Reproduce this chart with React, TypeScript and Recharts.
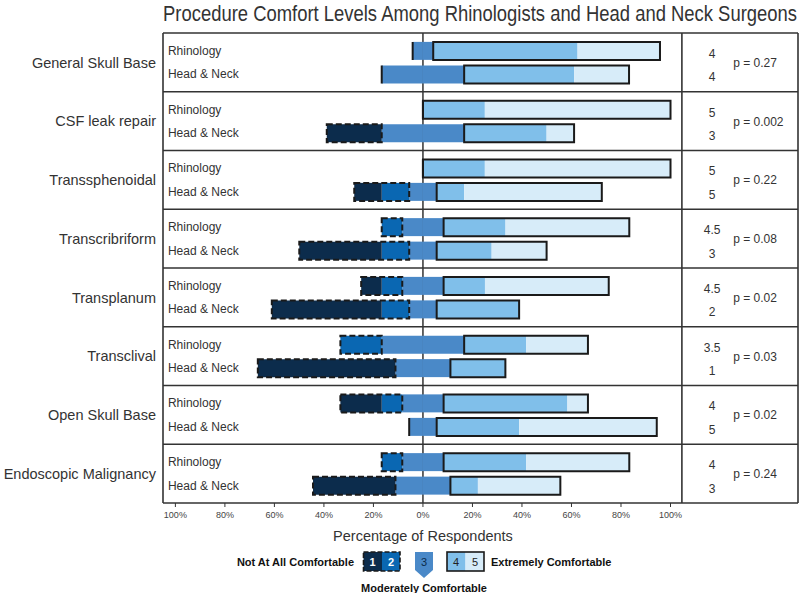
import React from "react";
import { ComposedChart, Bar, Scatter, XAxis, YAxis, ReferenceLine } from "recharts";

// ---------- data ----------
const procedures = [
  "General Skull Base",
  "CSF leak repair",
  "Transsphenoidal",
  "Transcribriform",
  "Transplanum",
  "Transclival",
  "Open Skull Base",
  "Endoscopic Malignancy",
];
const groups = ["Rhinology", "Head & Neck"];

// percentage of respondents per comfort level (1 = not at all ... 5 = extremely)
const rhinoL1 = [0, 0, 0, 0, 8.3, 0, 16.7, 0];
const rhinoL2 = [0, 0, 0, 8.3, 8.3, 16.7, 8.3, 8.3];
const rhinoL3 = [8.3, 0, 0, 16.7, 16.7, 33.3, 16.7, 16.7];
const rhinoL4 = [58.3, 25, 25, 25, 16.7, 25, 50, 33.3];
const rhinoL5 = [33.3, 75, 75, 50, 50, 25, 8.3, 41.7];

const hnL1 = [0, 22.2, 11.1, 33.3, 44.4, 55.6, 0, 33.3];
const hnL2 = [0, 0, 11.1, 11.1, 11.1, 0, 0, 0];
const hnL3 = [33.3, 33.3, 11.1, 11.1, 11.1, 22.2, 11.1, 22.2];
const hnL4 = [44.4, 33.3, 11.1, 22.2, 33.3, 22.2, 33.3, 11.1];
const hnL5 = [22.2, 11.1, 55.6, 22.2, 0, 0, 55.6, 33.3];

const rhinoMedian = [4, 5, 5, 4.5, 4.5, 3.5, 4, 4];
const hnMedian = [4, 3, 5, 3, 2, 1, 5, 3];
const pValues = ["0.27", "0.002", "0.22", "0.08", "0.02", "0.03", "0.02", "0.24"];

const xTicks = [-100, -80, -60, -40, -20, 0, 20, 40, 60, 80, 100];
const procTicks = [0.5, 1.5, 2.5, 3.5, 4.5, 5.5, 6.5, 7.5];
const separators = [1, 2, 3, 4, 5, 6, 7];

// ---------- style / layout constants ----------
const C1 = "#0c2c4c";
const C2 = "#0a67b2";
const C3 = "#4a89c8";
const C4 = "#80bfea";
const C5 = "#d7ecf9";
const LINE = "#333333";
const OUTLINE = "#1a1a1a";
const FONT = "'Liberation Sans', Arial, Helvetica, sans-serif";

const ROW_OFFSET = [0.3, 0.7];
const X_MIN = -105;
const X_MAX = 151.5;
const STATS_SEP = 104.6;
const LABEL_X = -103;
const MEDIAN_X = 116.8;
const P_X = 125.3;

type Row = Record<string, any>;

function buildRows(): Row[] {
  const rows: Row[] = [];
  procedures.forEach((proc, i) => {
    const sets = [
      [rhinoL1[i], rhinoL2[i], rhinoL3[i], rhinoL4[i], rhinoL5[i], rhinoMedian[i]],
      [hnL1[i], hnL2[i], hnL3[i], hnL4[i], hnL5[i], hnMedian[i]],
    ];
    sets.forEach(([l1, l2, l3, l4, l5, med], g) => {
      const neg = l1 + l2;
      rows.push({
        pos: i + ROW_OFFSET[g],
        proc,
        group: groups[g],
        median: med,
        p: g === 0 ? `p = ${pValues[i]}` : "",
        m3n: -l3 / 2,
        m3p: l3 / 2,
        s2: -l2,
        s1: -l1,
        s4: l4,
        s5: l5,
        padN: -l3 / 2,
        padP: l3 / 2,
        o12: neg > 0 ? -neg : -1e-6,
        o45: l4 + l5,
        lx: LABEL_X,
        mx: MEDIAN_X,
        px: P_X,
      });
    });
  });
  return rows;
}

const rows = buildRows();

const makeOutline = (dashed: boolean) => (props: any) => {
  const { x, y, width, height } = props;
  if ([x, y, width, height].some((v) => typeof v !== "number" || isNaN(v))) return <g />;
  const x0 = Math.min(x, x + width);
  const w = Math.abs(width);
  return (
    <path
      d={`M${x0},${y}h${w}v${height}h${-w}Z`}
      fill="none"
      stroke={OUTLINE}
      strokeWidth={2}
      strokeDasharray={dashed ? "6 3" : undefined}
    />
  );
};

const RowLabel = (props: any) => {
  const { cx, cy, payload } = props;
  return (
    <text x={cx} y={cy} dy="0.35em" fontSize={12} fill="#333" fontFamily={FONT}>
      {payload.group}
    </text>
  );
};

const MedianLabel = (props: any) => {
  const { cx, cy, payload } = props;
  return (
    <text x={cx} y={cy + 3} dy="0.35em" fontSize={12} fill="#333" textAnchor="middle" fontFamily={FONT}>
      {payload.median}
    </text>
  );
};

const PLabel = (props: any) => {
  const { cx, cy, payload } = props;
  if (!payload.p) return <g />;
  return (
    <text x={cx} y={cy + 12} dy="0.35em" fontSize={12} fill="#333" fontFamily={FONT}>
      {payload.p}
    </text>
  );
};

export default function App() {
  return (
    <div style={{ position: "absolute", left: 0, top: 0, width: 800, height: 593, fontFamily: FONT, background: "#fff" }}>
      <ComposedChart
        width={800}
        height={530}
        data={rows}
        layout="vertical"
        stackOffset="sign"
        barSize={18}
        barGap={-18}
        margin={{ top: 33, right: 2, bottom: 0, left: 0 }}
      >
        <XAxis
          type="number"
          domain={[X_MIN, X_MAX]}
          allowDataOverflow
          ticks={xTicks}
          interval={0}
          tickFormatter={(v: number) => `${Math.abs(v)}%`}
          axisLine={false}
          tickLine={{ stroke: LINE }}
          tickSize={4}
          tickMargin={5}
          height={27}
          tick={{ fontSize: 9, fill: "#444" }}
        />
        <YAxis
          type="number"
          dataKey="pos"
          domain={[0, 8]}
          allowDataOverflow
          ticks={procTicks}
          interval={0}
          tickFormatter={(v: number) => procedures[Math.floor(v)]}
          axisLine={false}
          tickLine={false}
          tickSize={0}
          tickMargin={7}
          width={163}
          tick={{ fontSize: 14.5, fill: "#333" }}
        />
        <ReferenceLine x={0} stroke={LINE} strokeWidth={1.5} ifOverflow="visible" zIndex={-10} />

        <Bar dataKey="m3n" stackId="main" fill={C3} isAnimationActive={false} />
        <Bar dataKey="m3p" stackId="main" fill={C3} isAnimationActive={false} />
        <Bar dataKey="s2" stackId="main" fill={C2} isAnimationActive={false} />
        <Bar dataKey="s1" stackId="main" fill={C1} isAnimationActive={false} />
        <Bar dataKey="s4" stackId="main" fill={C4} isAnimationActive={false} />
        <Bar dataKey="s5" stackId="main" fill={C5} isAnimationActive={false} />

        <Bar dataKey="padN" stackId="outline" fill="transparent" isAnimationActive={false} />
        <Bar dataKey="padP" stackId="outline" fill="transparent" isAnimationActive={false} />
        <Bar dataKey="o12" stackId="outline" shape={makeOutline(true)} isAnimationActive={false} />
        <Bar dataKey="o45" stackId="outline" shape={makeOutline(false)} isAnimationActive={false} />

        {separators.map((s) => (
          <ReferenceLine key={s} y={s} stroke={LINE} strokeWidth={1.6} ifOverflow="visible" />
        ))}
        <ReferenceLine y={0} stroke={LINE} strokeWidth={1.6} ifOverflow="visible" />
        <ReferenceLine y={8} stroke={LINE} strokeWidth={1.6} ifOverflow="visible" />
        <ReferenceLine x={X_MIN} stroke={LINE} strokeWidth={1.6} ifOverflow="visible" />
        <ReferenceLine x={X_MAX} stroke={LINE} strokeWidth={1.6} ifOverflow="visible" />
        <ReferenceLine x={STATS_SEP} stroke={LINE} strokeWidth={1.6} ifOverflow="visible" />

        <Scatter dataKey="lx" shape={RowLabel} isAnimationActive={false} />
        <Scatter dataKey="mx" shape={MedianLabel} isAnimationActive={false} />
        <Scatter dataKey="px" shape={PLabel} isAnimationActive={false} />
      </ComposedChart>

      <svg width={800} height={593} style={{ position: "absolute", left: 0, top: 0, pointerEvents: "none" }}>
        <text
          transform="translate(163,20.5) scale(1,1.15)"
          x={0}
          y={0}
          fontSize={18.4}
          fill="#333"
          textLength={634}
          lengthAdjust="spacingAndGlyphs"
          fontFamily={FONT}
        >
          Procedure Comfort Levels Among Rhinologists and Head and Neck Surgeons
        </text>
        <text x={423} y={541} fontSize={14.5} fill="#333" textAnchor="middle" fontFamily={FONT}>
          Percentage of Respondents
        </text>

        <text x={354} y={566} fontSize={11} fontWeight="bold" fill="#111" textAnchor="end" fontFamily={FONT}>
          Not At All Comfortable
        </text>
        <rect x={363.5} y={552} width={18.5} height={19} fill={C1} />
        <rect x={382} y={552} width={18} height={19} fill={C2} />
        <rect x={363.5} y={552} width={36.5} height={19} fill="none" stroke={OUTLINE} strokeWidth={1.6} strokeDasharray="5 2" />
        <text x={372.5} y={565.5} fontSize={11} fontWeight="bold" fill="#fff" textAnchor="middle" fontFamily={FONT}>1</text>
        <text x={391} y={565.5} fontSize={11} fontWeight="bold" fill="#fff" textAnchor="middle" fontFamily={FONT}>2</text>

        <path d="M415,552 H433 V570 L424,578 L415,570 Z" fill={C3} />
        <text x={424} y={566} fontSize={11} fill="#0c2c4c" textAnchor="middle" fontFamily={FONT}>3</text>

        <rect x={447} y={552} width={18.5} height={19} fill={C4} />
        <rect x={465.5} y={552} width={18.5} height={19} fill={C5} />
        <rect x={447} y={552} width={37} height={19} fill="none" stroke={OUTLINE} strokeWidth={1.6} />
        <text x={456} y={565.5} fontSize={11} fill="#222" textAnchor="middle" fontFamily={FONT}>4</text>
        <text x={475} y={565.5} fontSize={11} fill="#222" textAnchor="middle" fontFamily={FONT}>5</text>

        <text x={491} y={566} fontSize={11} fontWeight="bold" fill="#111" fontFamily={FONT}>
          Extremely Comfortable
        </text>
        <text x={424} y={592} fontSize={11} fontWeight="bold" fill="#111" textAnchor="middle" fontFamily={FONT}>
          Moderately Comfortable
        </text>
      </svg>
    </div>
  );
}
